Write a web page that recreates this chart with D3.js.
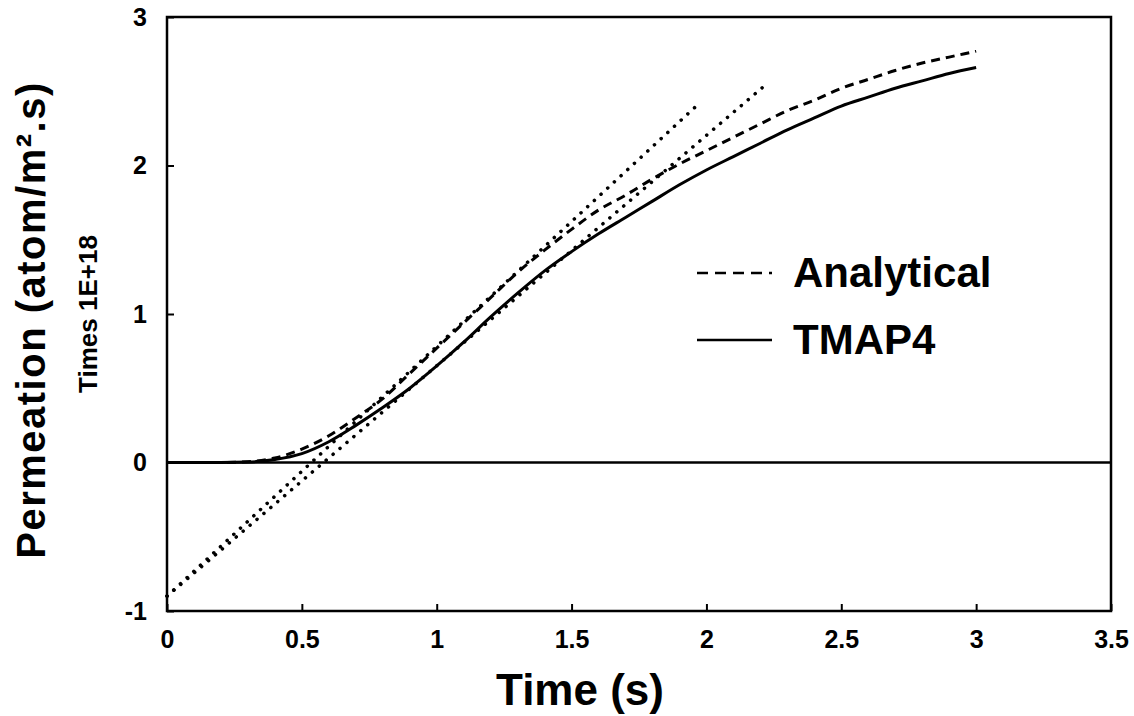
<!DOCTYPE html>
<html>
<head>
<meta charset="utf-8">
<script src="https://cdn.jsdelivr.net/npm/d3@7"></script>
<style>
  body { margin: 0; background: #fff; }
  text { font-family: "Liberation Sans", Arial, sans-serif; font-weight: bold; fill: #000; }
</style>
</head>
<body>
<svg id="chart"></svg>
<script>
// time (s)
let times = [0, 0.1, 0.2, 0.3, 0.4, 0.5, 0.6, 0.7, 0.8, 0.9, 1.0, 1.1, 1.2, 1.3, 1.4, 1.5,
    1.6, 1.7, 1.8, 1.9, 2.0, 2.1, 2.2, 2.3, 2.4, 2.5, 2.6, 2.7, 2.8, 2.9, 3.0];
// permeation, times 1E+18
let analytical = [0, 0, 0, 0.005, 0.03, 0.09, 0.18, 0.30, 0.43, 0.60, 0.77, 0.94, 1.11, 1.28, 1.43, 1.57,
    1.70, 1.80, 1.91, 2.01, 2.10, 2.19, 2.28, 2.37, 2.44, 2.52, 2.58, 2.64, 2.69, 2.73, 2.77];
let tmap4 = [0, 0, 0, 0.003, 0.02, 0.06, 0.14, 0.25, 0.37, 0.50, 0.65, 0.81, 0.98, 1.14, 1.29, 1.42,
    1.54, 1.65, 1.76, 1.87, 1.97, 2.06, 2.15, 2.24, 2.32, 2.40, 2.46, 2.52, 2.57, 2.62, 2.66];
// dotted tangent lines [start, end] as [time, value]
let tangentA = [[0, -0.9], [1.98, 2.43]];
let tangentT = [[0, -0.9], [2.23, 2.56]];
let xTicks = [0, 0.5, 1, 1.5, 2, 2.5, 3, 3.5];
let yTicks = [-1, 0, 1, 2, 3];
let legendNames = ["Analytical", "TMAP4"];

let width = 1134;
let height = 716;

let chart = d3.select("#chart").attr("width", width).attr("height", height);

let xscale = d3.scaleLinear().domain([0, 3.5]).range([167, 1111]);
let yscale = d3.scaleLinear().domain([-1, 3]).range([611, 17]);

// axes with inward ticks
let xAxis = chart.append("g")
    .attr("transform", "translate(0," + yscale(-1) + ")")
    .call(d3.axisBottom(xscale).tickValues(xTicks).tickSizeInner(-7).tickSizeOuter(0)
        .tickPadding(19).tickFormat(d3.format("")));
xAxis.select(".domain").remove();
xAxis.selectAll("line").attr("stroke-width", 2);
xAxis.selectAll("text").attr("font-size", 25).attr("font-family", null).attr("fill", "#000");

let yAxis = chart.append("g")
    .attr("transform", "translate(" + xscale(0) + ",0)")
    .call(d3.axisLeft(yscale).tickValues(yTicks).tickSizeInner(-7).tickSizeOuter(0)
        .tickPadding(20).tickFormat(d => d < 0 ? "-" + Math.abs(d) : d));
yAxis.select(".domain").remove();
yAxis.selectAll("line").attr("stroke-width", 2);
yAxis.selectAll("text").attr("font-size", 25).attr("fill", "#000");

// frame
chart.append("rect")
    .attr("x", xscale(0)).attr("y", yscale(3))
    .attr("width", xscale(3.5) - xscale(0)).attr("height", yscale(-1) - yscale(3))
    .attr("fill", "none").attr("stroke", "#000").attr("stroke-width", 2.5);

// zero line
chart.append("line")
    .attr("x1", xscale(0)).attr("x2", xscale(3.5))
    .attr("y1", yscale(0)).attr("y2", yscale(0))
    .attr("stroke", "#000").attr("stroke-width", 2.5);

let line = d3.line()
    .x(d => xscale(d[0]))
    .y(d => yscale(d[1]))
    .curve(d3.curveMonotoneX);

let dotted = [tangentA, tangentT];
chart.selectAll("path.tangent").data(dotted).enter().append("path")
    .attr("class", "tangent")
    .attr("d", d3.line().x(d => xscale(d[0])).y(d => yscale(d[1])))
    .attr("fill", "none").attr("stroke", "#000")
    .attr("stroke-width", 3.5).attr("stroke-linecap", "round")
    .attr("stroke-dasharray", "0.1,9");

chart.append("path")
    .datum(times.map((t, i) => [t, analytical[i]]))
    .attr("d", line)
    .attr("fill", "none").attr("stroke", "#000")
    .attr("stroke-width", 3).attr("stroke-dasharray", "9,6");

chart.append("path")
    .datum(times.map((t, i) => [t, tmap4[i]]))
    .attr("d", line)
    .attr("fill", "none").attr("stroke", "#000")
    .attr("stroke-width", 3);

// legend
let legend = chart.selectAll("g.legend").data(legendNames).enter().append("g")
    .attr("class", "legend")
    .attr("transform", (d, i) => "translate(697," + (273 + i * 67) + ")");
legend.append("line")
    .attr("x1", 0).attr("x2", 75).attr("y1", 0).attr("y2", 0)
    .attr("stroke", "#000").attr("stroke-width", 2.5)
    .attr("stroke-dasharray", (d, i) => i == 0 ? "11,7" : null);
legend.append("text")
    .attr("x", 96).attr("y", 14)
    .attr("font-size", 42)
    .text(d => d);

// axis titles
chart.append("text")
    .attr("transform", "translate(" + 580 + "," + 705 + ")")
    .style("text-anchor", "middle")
    .attr("font-size", 44)
    .text("Time (s)");

chart.append("text")
    .attr("transform", "translate(" + 45 + "," + 320 + ") rotate(-90)")
    .style("text-anchor", "middle")
    .attr("font-size", 40)
    .attr("letter-spacing", 1.5)
    .text("Permeation (atom/m\u00B2.s)");

chart.append("text")
    .attr("transform", "translate(" + 97 + "," + 314 + ") rotate(-90)")
    .style("text-anchor", "middle")
    .attr("font-size", 26)
    .text("Times 1E+18");
</script>
</body>
</html>
